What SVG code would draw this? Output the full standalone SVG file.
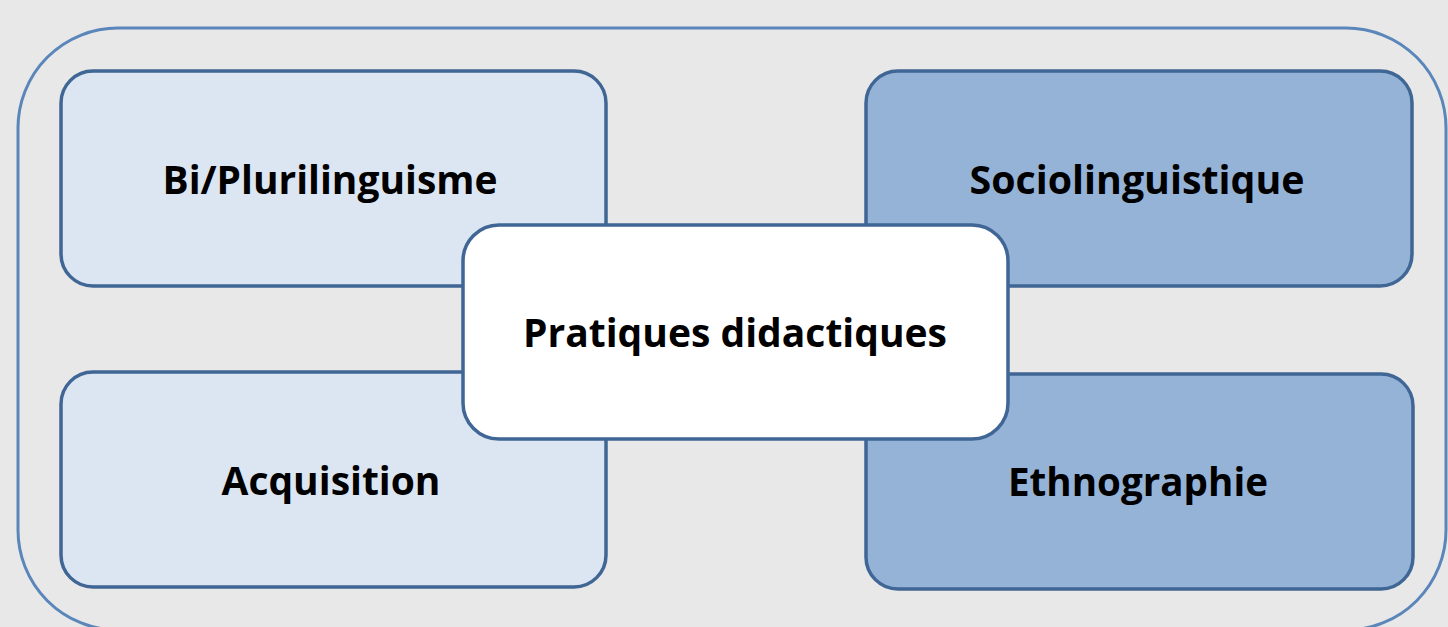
<svg xmlns="http://www.w3.org/2000/svg" width="1448" height="627" viewBox="0 0 1448 627">
<style>
.lt{fill:#dce6f2;stroke:#3f6694;stroke-width:3.5}
.dk{fill:#95b3d7;stroke:#3f6694;stroke-width:3.5}
.ct{fill:#ffffff;stroke:#3f6694;stroke-width:3.5}
text{font-family:"Open Sans","Liberation Sans",sans-serif;font-weight:bold;font-size:39px;fill:#000;text-anchor:middle}
</style>
<rect x="0" y="0" width="1448" height="627" fill="#e8e8e8"/>
<g id="frame"><rect x="18" y="28" width="1428" height="602" rx="100" ry="100" fill="none" stroke="#5a86ba" stroke-width="3"/></g>
<g id="connectors"></g>
<g id="bi"><rect class="lt" x="61" y="71" width="545" height="215" rx="32"/><text x="330" y="194" textLength="335" lengthAdjust="spacingAndGlyphs">Bi/Plurilinguisme</text></g>
<g id="socio"><rect class="dk" x="866" y="71" width="546" height="215" rx="32"/><text x="1137" y="194" textLength="335" lengthAdjust="spacingAndGlyphs">Sociolinguistique</text></g>
<g id="acq"><rect class="lt" x="61" y="372" width="545" height="215" rx="32"/><text x="331" y="495" textLength="219" lengthAdjust="spacingAndGlyphs">Acquisition</text></g>
<g id="ethno"><rect class="dk" x="866" y="374" width="547" height="215" rx="32"/><text x="1138" y="496" textLength="260" lengthAdjust="spacingAndGlyphs">Ethnographie</text></g>
<g id="center"><rect class="ct" x="463" y="225" width="545" height="214" rx="36"/><text x="735" y="347" textLength="424" lengthAdjust="spacingAndGlyphs">Pratiques didactiques</text></g>
</svg>
